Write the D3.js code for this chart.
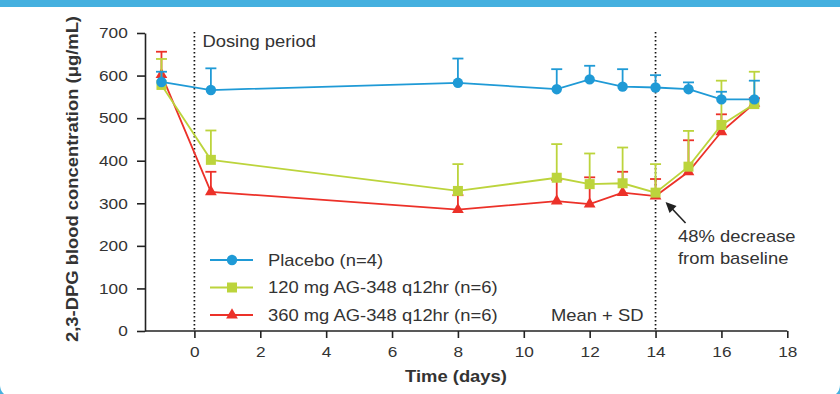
<!DOCTYPE html>
<html>
<head>
<meta charset="utf-8">
<script src="https://cdn.jsdelivr.net/npm/d3@7"></script>
<style>
  body { margin: 0; background: #fff; }
  svg text { font-family: "Liberation Sans", Arial, Helvetica, sans-serif; fill: #333; }
</style>
</head>
<body>
<div id="chart"></div>
<script>
// data (mean and SD, ug/mL)
var days = [-1, 0.5, 8, 11, 12, 13, 14, 15, 16, 17];
var placeboMean = [585, 566, 583, 568, 591, 574, 572, 568, 544, 544];
var placeboSD   = [24, 51, 57, 47, 32, 41, 29, 16, 18, 44];
var dose120Mean = [578, 402, 329, 360, 345, 347, 325, 386, 484, 533];
var dose120SD   = [61, 69, 63, 79, 72, 84, 67, 84, 104, 76];
var dose360Mean = [602, 327, 285, 305, 298, 325, 317, 374, 468, 535];
var dose360SD   = [54, 47, 34, 50, 63, 49, 40, 74, 41, 12];
var seriesNames = ["Placebo (n=4)", "120 mg AG-348 q12hr (n=6)", "360 mg AG-348 q12hr (n=6)"];
var xTicks = [0, 2, 4, 6, 8, 10, 12, 14, 16, 18];
var yTicks = [0, 100, 200, 300, 400, 500, 600, 700];
var dosingDays = [0, 14];

var W = 840, H = 394;
var SX = 1.15; // the source type is slightly wide
var blue = "#1f9ad6", green = "#bcd43c", red = "#ec3129";

var svg = d3.select("#chart").append("svg")
    .attr("width", W).attr("height", H);

// panel frame: blue strip at top, rounded lower corners
svg.append("rect").attr("width", W).attr("height", H).attr("fill", "#45b0df");
svg.append("path")
    .attr("d", "M0,7 H840 V385 A12,12 0 0 1 828,397 H12 A12,12 0 0 1 0,385 Z")
    .attr("fill", "#fff");

var x = d3.scaleLinear().domain([-1.5, 18]).range([145, 787.3]);
var y = d3.scaleLinear().domain([0, 700]).range([331, 33]);

// dotted dosing period markers
svg.selectAll("line.dose")
    .data(dosingDays)
  .enter().append("line")
    .attr("class", "dose")
    .attr("x1", d => x(d)).attr("x2", d => x(d))
    .attr("y1", y(700) - 1).attr("y2", y(0))
    .attr("stroke", "#111").attr("stroke-width", 1.7)
    .attr("stroke-dasharray", "1.5,2.5");

// axes
var xAxis = svg.append("g")
    .attr("transform", "translate(0," + y(0) + ")")
    .call(d3.axisBottom(x).tickValues(xTicks).tickSize(7).tickSizeOuter(0).tickPadding(8));
var yAxis = svg.append("g")
    .attr("transform", "translate(" + x(-1.5) + ",0)")
    .call(d3.axisLeft(y).tickValues(yTicks).tickSize(8).tickSizeOuter(0).tickPadding(7));

[xAxis, yAxis].forEach(function (g) {
  g.selectAll("path, line").attr("stroke", "#222").attr("stroke-width", 1.6);
  g.selectAll("text")
    .attr("fill", "#333")
    .style("font-size", "15px")
    .attr("transform", "scale(" + SX + ",1)");
});
xAxis.select(".domain").attr("d", "M" + x(-1.5) + ",0H" + x(18));

// axis titles
svg.append("text")
    .attr("transform", "translate(456,382) scale(" + SX + ",1)")
    .attr("text-anchor", "middle")
    .style("font-size", "16px").style("font-weight", "bold")
    .text("Time (days)");
svg.append("text")
    .attr("transform", "translate(78,179) rotate(-90) scale(" + SX + ",1)")
    .attr("text-anchor", "middle")
    .style("font-size", "16px").style("font-weight", "bold")
    .text("2,3-DPG blood concentration (\u03bcg/mL)");

// series, drawn red first so that placebo sits on top
var series = [
  { name: seriesNames[2], mean: dose360Mean, sd: dose360SD, color: red, shape: d3.symbolTriangle, size: 60 },
  { name: seriesNames[1], mean: dose120Mean, sd: dose120SD, color: green, shape: d3.symbolSquare, size: 100 },
  { name: seriesNames[0], mean: placeboMean, sd: placeboSD, color: blue, shape: d3.symbolCircle, size: 85 }
];

var line = d3.line().x(d => x(d.day)).y(d => y(d.mean));

series.forEach(function (s) {
  var pts = days.map((d, i) => ({ day: d, mean: s.mean[i], sd: s.sd[i] }));
  var g = svg.append("g");

  // mean + SD bars
  var eb = g.selectAll("g.err").data(pts).enter().append("g");
  eb.append("line")
      .attr("x1", d => x(d.day)).attr("x2", d => x(d.day))
      .attr("y1", d => y(d.mean)).attr("y2", d => y(d.mean + d.sd))
      .attr("stroke", s.color).attr("stroke-width", 1.8);
  eb.append("line")
      .attr("x1", d => x(d.day) - 5.5).attr("x2", d => x(d.day) + 5.5)
      .attr("y1", d => y(d.mean + d.sd)).attr("y2", d => y(d.mean + d.sd))
      .attr("stroke", s.color).attr("stroke-width", 1.8);

  g.append("path").datum(pts)
      .attr("d", line)
      .attr("fill", "none").attr("stroke", s.color).attr("stroke-width", 1.8);

  g.selectAll("path.mk").data(pts).enter().append("path")
      .attr("class", "mk")
      .attr("transform", d => "translate(" + x(d.day) + "," + y(d.mean) + ")")
      .attr("d", d3.symbol().type(s.shape).size(s.size))
      .attr("fill", s.color);
});

// legend
var legend = svg.append("g").attr("transform", "translate(210,260)");
var legendRows = series.slice().reverse();
legendRows.forEach(function (s, i) {
  var r = legend.append("g").attr("transform", "translate(0," + (i * 27.5) + ")");
  r.append("line").attr("x1", 0).attr("x2", 43).attr("y1", 0).attr("y2", 0)
      .attr("stroke", s.color).attr("stroke-width", 1.8);
  r.append("path").attr("transform", "translate(22,0)")
      .attr("d", d3.symbol().type(s.shape).size(s.size)).attr("fill", s.color);
  r.append("text")
      .attr("transform", "translate(58,5.5) scale(" + SX + ",1)")
      .style("font-size", "16px")
      .text(s.name);
});

// annotations
svg.append("text")
    .attr("transform", "translate(" + (x(0) + 8) + ",47) scale(" + SX + ",1)")
    .style("font-size", "16px").text("Dosing period");
svg.append("text")
    .attr("transform", "translate(551,321) scale(" + SX + ",1)")
    .style("font-size", "16px").text("Mean + SD");
svg.append("text")
    .attr("transform", "translate(678,242) scale(" + SX + ",1)")
    .style("font-size", "16px").text("48% decrease");
svg.append("text")
    .attr("transform", "translate(678,264) scale(" + SX + ",1)")
    .style("font-size", "16px").text("from baseline");

// arrow pointing at the day-14 nadir
var tipX = x(14) + 10, tipY = y(dose360Mean[6]) + 6;
svg.append("line")
    .attr("x1", tipX + 20).attr("y1", tipY + 21)
    .attr("x2", tipX + 4).attr("y2", tipY + 4)
    .attr("stroke", "#222").attr("stroke-width", 1.6);
svg.append("path")
    .attr("d", "M" + tipX + "," + tipY + " l11,4 l-7,7 z")
    .attr("fill", "#222");
</script>
</body>
</html>
